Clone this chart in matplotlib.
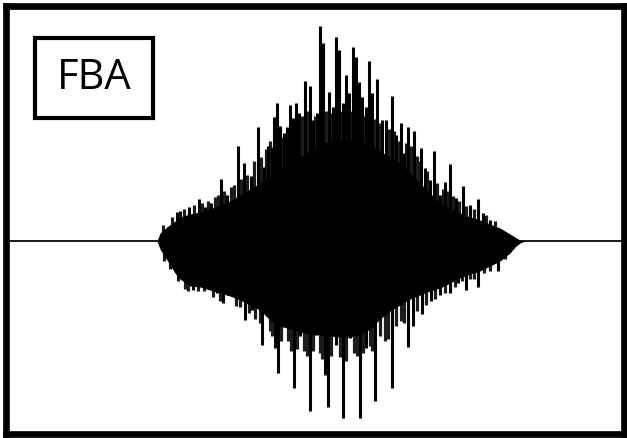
import matplotlib.pyplot as plt
from matplotlib.patches import Rectangle

# Waveform: time in samples, amplitude in counts
# solid body of the record (upper / lower envelope)
body_t = [157, 160, 167, 175, 180, 190, 200, 210, 220, 230, 240, 250, 260, 270, 280, 290,
          300, 310, 320, 330, 340, 350, 360, 370, 380, 390, 400, 410, 420, 430, 440, 450,
          460, 470, 480, 490, 500, 510, 515, 520, 525]
body_top = [0, 8, 14, 20, 24, 27, 29, 32, 36, 40, 46, 52, 58, 64, 72, 78,
            84, 90, 96, 100, 102, 102, 100, 96, 90, 84, 78, 68, 58, 48, 38, 33,
            28, 24, 21, 17, 13, 7, 4, 1, 0]
body_bot = [0, -8, -19, -32, -38, -45, -46, -49, -52, -55, -59, -64, -69, -79, -85, -88,
            -91, -93, -94, -95, -96, -96, -94, -88, -78, -70, -64, -58, -54, -50, -47, -42,
            -37, -33, -30, -25, -20, -12, -6, -2, 0]

# positive peaks (tall ones)
up_t = [168, 177, 180, 189, 199, 205, 211, 221, 227, 238, 244, 251, 258, 264, 268, 272,
        274, 277, 280, 284, 287, 290, 293, 296, 299, 305, 310, 313, 317, 320, 323, 329,
        333, 336, 339, 343, 346, 349, 353, 356, 359, 362, 366, 369, 372, 377, 382, 386,
        392, 396, 401, 404, 408, 414, 421, 425, 430, 434, 440, 445, 450, 456, 463, 470,
        478, 483, 490]
up_a = [14, 29, 30, 34, 42, 34, 38, 62, 46, 95, 78, 65, 114, 74, 95, 94,
        124, 138, 115, 108, 114, 136, 123, 138, 128, 160, 155, 121, 128, 215, 198, 149,
        134, 204, 191, 138, 166, 148, 194, 184, 159, 144, 134, 180, 148, 162, 121, 121,
        145, 106, 118, 88, 114, 110, 93, 73, 61, 90, 46, 59, 77, 43, 55, 36,
        42, 28, 21]

# positive peaks (short ones between)
up2_t = [163, 172, 184, 194, 202, 208, 215, 218, 224, 231, 234, 241, 247, 254, 261, 266,
         270, 282, 288, 291, 298, 302, 307, 315, 326, 331, 341, 351, 358, 364, 375, 380,
         389, 394, 399, 406, 411, 417, 419, 427, 437, 443, 448, 453, 459, 466, 474, 486, 495]
up2_a = [16, 24, 32, 36, 38, 40, 44, 46, 50, 54, 56, 62, 66, 80, 84, 92,
         100, 104, 106, 112, 110, 125, 130, 125, 130, 128, 130, 130, 128, 125, 122, 118,
         112, 110, 100, 98, 95, 85, 80, 70, 58, 52, 50, 45, 40, 35, 32, 26, 20]

# negative peaks (deep ones)
dn_t = [193, 210, 217, 223, 228, 232, 245, 252, 257, 262, 267, 275, 278, 284, 294, 300,
        310, 316, 325, 328, 336, 343, 350, 360, 366, 375, 392, 408, 413, 422, 431, 440,
        450, 458, 466, 478, 498, 513]
dn_a = [-49, -39, -52, -62, -54, -52, -79, -69, -52, -104, -75, -107, -132, -85, -147, -95,
        -170, -94, -134, -166, -104, -177, -97, -177, -107, -160, -147, -106, -85, -73, -60, -54,
        -52, -42, -49, -46, -30, -7]

# negative peaks (short ones between)
dn2_t = [164, 170, 178, 185, 188, 198, 204, 213, 220, 236, 240, 249, 255, 260, 270, 272,
         281, 288, 291, 297, 304, 307, 313, 320, 322, 331, 340, 346, 354, 357, 363, 370,
         372, 380, 385, 388, 396, 401, 404, 417, 426, 435, 445, 455, 462, 470, 474, 484,
         490, 505]
dn2_a = [-20, -28, -40, -48, -50, -50, -50, -56, -60, -65, -66, -72, -78, -82, -90, -95,
         -100, -100, -110, -108, -110, -115, -110, -112, -118, -115, -116, -120, -112, -115, -112, -105,
         -110, -95, -100, -98, -85, -80, -82, -70, -64, -58, -52, -46, -40, -38, -38, -32,
         -30, -18]

fig = plt.figure(figsize=(6.27, 4.38), dpi=100)
ax = fig.add_axes([0.0088, 0.0091, 0.9864, 0.9772])

ax.axhline(0, color='#1a1a1a', lw=1.4, zorder=1)
ax.vlines(up2_t, 0, up2_a, color='#1c1c1c', lw=2.3, zorder=1.5)
ax.vlines(dn2_t, 0, dn2_a, color='#1c1c1c', lw=2.3, zorder=1.5)
ax.fill_between(body_t, body_bot, body_top, color='black', lw=0, zorder=2)
ax.vlines(up_t, 0, up_a, color='black', lw=2.2, zorder=3)
ax.vlines(dn_t, 0, dn_a, color='black', lw=2.2, zorder=3)

ax.set_xlim(5.5, 624)
ax.set_ylim(-193, 235)
ax.set_xticks([])
ax.set_yticks([])
for s in ax.spines.values():
    s.set_linewidth(4.8)
    s.set_color('black')

# label box
ax.add_patch(Rectangle((0.0477, 0.738), 0.1908, 0.187, transform=ax.transAxes,
                       fill=False, ec='black', lw=3, zorder=5))
ax.text(0.143, 0.832, 'FBA', transform=ax.transAxes, ha='center', va='center',
        fontsize=30, family='Open Sans', zorder=6)

fig.savefig('out.png', dpi=100)
